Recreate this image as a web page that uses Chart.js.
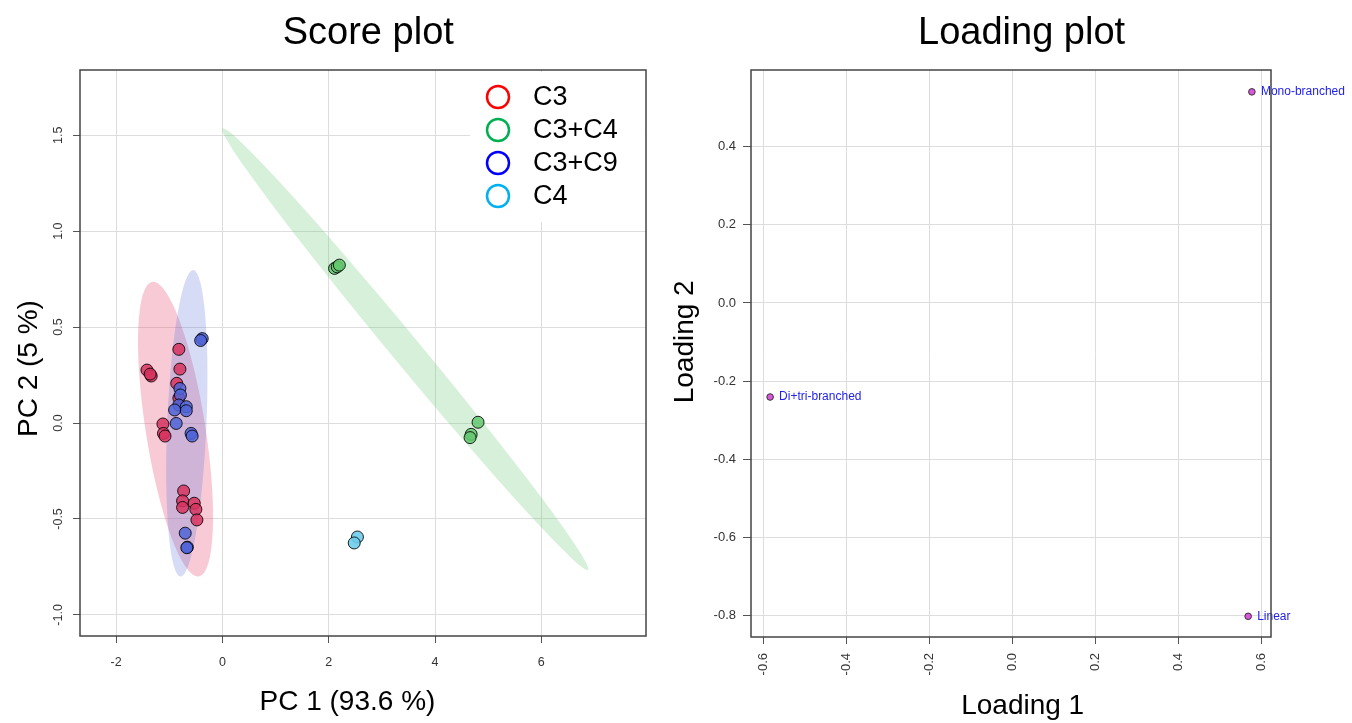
<!DOCTYPE html>
<html>
<head>
<meta charset="utf-8">
<script src="https://cdn.jsdelivr.net/npm/chart.js@4"></script>
<style>
  body { margin: 0; background: #fff; }
  #scoreChart { position: absolute; left: 0; top: 0; }
  #loadingChart { position: absolute; left: 656px; top: 0; }
</style>
</head>
<body>
<canvas id="scoreChart" width="656" height="723"></canvas>
<canvas id="loadingChart" width="696" height="723"></canvas>
<script>
// score plot: [PC1, PC2] per sample
const groups = ['C3', 'C3+C4', 'C3+C9', 'C4'];
const scoresC3 = [
  [-0.82, 0.384], [-1.42, 0.276], [-1.34, 0.245], [-1.36, 0.255], [-0.80, 0.281],
  [-0.86, 0.207], [-0.82, 0.13], [-1.12, -0.005], [-1.11, -0.054], [-1.08, -0.068],
  [-0.73, -0.354], [-0.75, -0.406], [-0.75, -0.44], [-0.53, -0.418], [-0.50, -0.45],
  [-0.48, -0.505]
];
const scoresC3C4 = [[2.11, 0.806], [2.16, 0.814], [2.20, 0.823], [4.81, 0.004], [4.68, -0.059], [4.66, -0.076]];
const scoresC3C9 = [
  [-0.38, 0.44], [-0.41, 0.43], [-0.80, 0.18], [-0.79, 0.146], [-0.82, 0.094],
  [-0.68, 0.085], [-0.68, 0.064], [-0.90, 0.068], [-0.87, -0.002], [-0.59, -0.054],
  [-0.57, -0.068], [-0.70, -0.574], [-0.66, -0.647], [-0.67, -0.65]
];
const scoresC4 = [[2.54, -0.594], [2.48, -0.625]];

// confidence ellipses: major axis end points (PC1, PC2) and minor/major ratio
const ellipseC3 = [[-1.32, 0.736], [-0.445, -0.80]];
const ellipseC3C4 = [[0.0, 1.536], [6.88, -0.766]];
const ellipseC3C9 = [[-0.55, 0.797], [-0.79, -0.80]];
const ellipseRatios = [0.2, 0.05, 0.128];

const pc1Ticks = [-2, 0, 2, 4, 6];
const pc2Ticks = [-1.0, -0.5, 0.0, 0.5, 1.0, 1.5];

// loading plot
const loadingNames = ['Mono-branched', 'Di+tri-branched', 'Linear'];
const loading1 = [0.576, -0.583, 0.567];
const loading2 = [0.541, -0.241, -0.803];
const loading1Ticks = [-0.6, -0.4, -0.2, 0.0, 0.2, 0.4, 0.6];
const loading2Ticks = [-0.8, -0.6, -0.4, -0.2, 0.0, 0.2, 0.4];

const pointFills = ['rgba(215,50,95,0.85)', 'rgba(100,200,110,0.85)', 'rgba(80,100,215,0.85)', 'rgba(110,205,235,0.9)'];
const ellipseFills = ['rgba(230,80,120,0.3)', 'rgba(110,200,120,0.28)', 'rgba(90,110,220,0.25)'];
const legendColors = ['#ff0000', '#00b050', '#0000ff', '#00b0f0'];

Chart.defaults.font.family = '"Liberation Sans", Arial, sans-serif';
Chart.defaults.color = '#333';

const toXY = arr => arr.map(p => ({ x: p[0], y: p[1] }));
const setTicks = vals => scale => { scale.ticks = vals.map(v => ({ value: v })); };

const framePlugin = {
  id: 'frame',
  afterDraw(chart) {
    const { ctx, chartArea: a } = chart;
    ctx.save();
    ctx.strokeStyle = '#444';
    ctx.lineWidth = 1.5;
    ctx.strokeRect(a.left, a.top, a.width, a.height);
    ctx.restore();
  }
};

const ellipsePlugin = {
  id: 'ellipses',
  beforeDatasetsDraw(chart) {
    const { ctx, chartArea: a, scales: { x, y } } = chart;
    ctx.save();
    ctx.beginPath();
    ctx.rect(a.left, a.top, a.width, a.height);
    ctx.clip();
    [ellipseC3, ellipseC3C4, ellipseC3C9].forEach((e, i) => {
      const x1 = x.getPixelForValue(e[0][0]), y1 = y.getPixelForValue(e[0][1]);
      const x2 = x.getPixelForValue(e[1][0]), y2 = y.getPixelForValue(e[1][1]);
      const rx = Math.hypot(x2 - x1, y2 - y1) / 2;
      ctx.beginPath();
      ctx.ellipse((x1 + x2) / 2, (y1 + y2) / 2, rx, rx * ellipseRatios[i], Math.atan2(y2 - y1, x2 - x1), 0, Math.PI * 2);
      ctx.fillStyle = ellipseFills[i];
      ctx.fill();
    });
    ctx.restore();
  }
};

const scoreLegend = {
  id: 'scoreLegend',
  afterDatasetsDraw(chart) {
    const { ctx, chartArea: a } = chart;
    ctx.save();
    ctx.fillStyle = '#fff';
    ctx.fillRect(a.right - 176, a.top + 2, 175, 150);
    ctx.font = '27px "Liberation Sans", Arial, sans-serif';
    ctx.textBaseline = 'middle';
    groups.forEach((g, i) => {
      const yy = a.top + 27 + i * 33;
      ctx.beginPath();
      ctx.arc(a.right - 148, yy, 11, 0, Math.PI * 2);
      ctx.strokeStyle = legendColors[i];
      ctx.lineWidth = 2.5;
      ctx.stroke();
      ctx.fillStyle = '#000';
      ctx.fillText(g, a.right - 113, yy + 1);
    });
    ctx.restore();
  }
};

const pointLabels = {
  id: 'pointLabels',
  afterDatasetsDraw(chart) {
    const ctx = chart.ctx;
    ctx.save();
    ctx.font = '12px "Liberation Sans", Arial, sans-serif';
    ctx.fillStyle = '#2222ee';
    ctx.textBaseline = 'middle';
    chart.getDatasetMeta(0).data.forEach((pt, i) => {
      ctx.fillText(loadingNames[i], pt.x + 9, pt.y);
    });
    ctx.restore();
  }
};

const gridStyle = { color: '#dddddd', tickColor: '#555', tickLength: 7 };

new Chart(document.getElementById('scoreChart'), {
  type: 'scatter',
  data: {
    datasets: [
      { label: groups[2], data: toXY(scoresC3C9), backgroundColor: pointFills[2] },
      { label: groups[0], data: toXY(scoresC3), backgroundColor: pointFills[0] },
      { label: groups[1], data: toXY(scoresC3C4), backgroundColor: pointFills[1] },
      { label: groups[3], data: toXY(scoresC4), backgroundColor: pointFills[3] }
    ].map(d => Object.assign(d, { pointRadius: 6, borderWidth: 1, borderColor: 'rgba(0,0,0,0.85)' }))
  },
  options: {
    responsive: false,
    animation: false,
    devicePixelRatio: 1,
    layout: { padding: { left: 0, right: 10, top: 0, bottom: 0 } },
    plugins: {
      legend: { display: false },
      tooltip: { enabled: false },
      title: {
        display: true,
        text: ' Score plot',
        fullSize: false,
        color: '#000',
        font: { size: 38, weight: 'normal' },
        padding: { top: 11, bottom: 13.4 }
      }
    },
    scales: {
      x: {
        type: 'linear',
        min: -2.68,
        max: 7.97,
        afterBuildTicks: setTicks(pc1Ticks),
        afterFit: s => { s.height = 87; },
        grid: gridStyle,
        border: { display: false },
        ticks: { font: { size: 12.5 }, padding: 12, maxRotation: 0 },
        title: { display: true, text: 'PC 1 (93.6 %)    ', color: '#000', font: { size: 28 }, padding: { top: 0, bottom: 4 } }
      },
      y: {
        min: -1.11,
        max: 1.84,
        afterBuildTicks: setTicks(pc2Ticks),
        afterFit: s => { s.width = 80; },
        grid: gridStyle,
        border: { display: false },
        ticks: { font: { size: 12.5 }, padding: 4, minRotation: 90, maxRotation: 90, crossAlign: 'center', callback: v => v.toFixed(1) },
        title: { display: true, text: 'PC 2 (5 %)    ', color: '#000', font: { size: 28 }, padding: { top: 12, bottom: 0 } }
      }
    }
  },
  plugins: [ellipsePlugin, scoreLegend, framePlugin]
});

new Chart(document.getElementById('loadingChart'), {
  type: 'scatter',
  data: {
    datasets: [{
      label: 'Loadings',
      data: loading1.map((v, i) => ({ x: v, y: loading2[i] })),
      backgroundColor: '#dd55dd',
      borderColor: '#333',
      borderWidth: 1,
      pointRadius: 3.3
    }]
  },
  options: {
    responsive: false,
    animation: false,
    devicePixelRatio: 1,
    layout: { padding: { left: 0, right: 81, top: 0, bottom: 0 } },
    plugins: {
      legend: { display: false },
      tooltip: { enabled: false },
      title: {
        display: true,
        text: '  Loading plot',
        fullSize: false,
        color: '#000',
        font: { size: 38, weight: 'normal' },
        padding: { top: 11, bottom: 13.4 }
      }
    },
    scales: {
      x: {
        type: 'linear',
        min: -0.629,
        max: 0.622,
        afterBuildTicks: setTicks(loading1Ticks),
        afterFit: s => { s.height = 86; },
        grid: gridStyle,
        border: { display: false },
        ticks: { font: { size: 13 }, padding: 9, minRotation: 90, maxRotation: 90, callback: v => v.toFixed(1) },
        title: { display: true, text: '   Loading 1', color: '#000', font: { size: 28 }, padding: { top: 0, bottom: 0 } }
      },
      y: {
        min: -0.856,
        max: 0.597,
        afterBuildTicks: setTicks(loading2Ticks),
        afterFit: s => { s.width = 95; },
        grid: { color: '#dddddd', tickColor: '#555', tickLength: 8 },
        border: { display: false },
        ticks: { font: { size: 13 }, padding: 7, callback: v => v.toFixed(1) },
        title: { display: true, text: '   Loading 2', color: '#000', font: { size: 28 }, padding: { top: 12, bottom: 0 } }
      }
    }
  },
  plugins: [pointLabels, framePlugin]
});
</script>
</body>
</html>
